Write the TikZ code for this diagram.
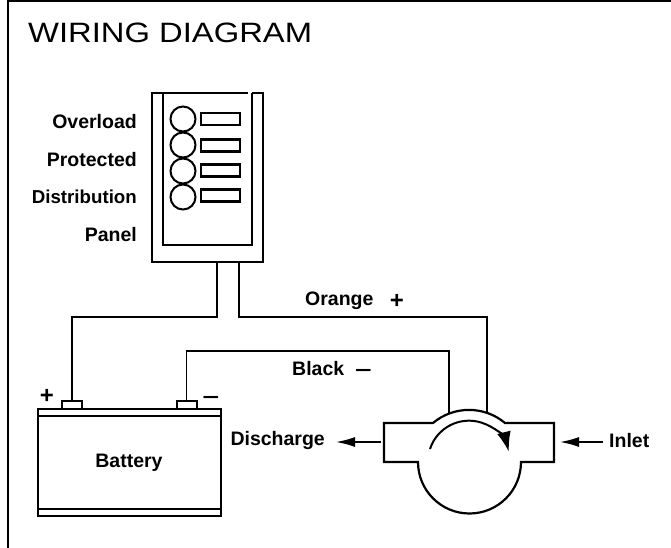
\documentclass[tikz,border=0pt]{standalone}
\usepackage{fontspec}
\setmainfont{Liberation Sans}
\usetikzlibrary{arrows.meta}
\begin{document}
\begin{tikzpicture}[
    x = 1pt,
    y = -1pt,
    wire/.style = {
        draw,
        line width = 1.7pt
    },
    thick line/.style = {
        draw,
        line width = 2.2pt
    },
    lamp/.style = {
        draw,
        circle,
        minimum size = 25pt,
        inner sep = 0pt,
        line width = 2pt
    },
    slot/.style = {
        draw,
        rectangle,
        minimum width = 39pt,
        minimum height = 12pt,
        inner sep = 0pt,
        line width = 2.2pt
    },
    terminal/.style = {
        draw,
        rectangle,
        minimum width = 20pt,
        minimum height = 8pt,
        inner sep = 0pt,
        line width = 2pt
    },
    label/.style = {
        font = \fontsize{19.5}{19.5}\selectfont\bfseries,
        inner sep = 0pt
    },
    sign/.style = {
        font = \fontsize{24}{24}\selectfont\bfseries,
        inner sep = 0pt
    },
    dash sign/.style = {
        font = \fontsize{30}{30}\selectfont,
        inner sep = 0pt
    },
    flow/.style = {
        line width = 1.6pt,
        -{Latex[length = 19pt, width = 10pt]}
    }
]

\useasboundingbox (0,0) rectangle (671,548);

% Frame
\draw[line width = 2pt] (7.5,548) -- (7.5,1.5) -- (671,1.5);

% Title
\node[inner sep = 0pt, anchor = west] (title) at (28,33) {\fontsize{28}{28}\selectfont\addfontfeature{FakeStretch=1.17}WIRING DIAGRAM};

% Panel
\draw[thick line] (248,93) -- (152,93) -- (152,262) -- (263,262) -- (263,93) -- (252,93);
\draw[thick line] (163,93) -- (163,245) -- (252,245) -- (252,93);

% Lamps and slots
\foreach \i / \y / \s in {1/119/119, 2/145/145.5, 3/171/170.5, 4/197/195.5} {
    \node[lamp] (lamp\i) at (183,\y) {};
    \node[slot] (slot\i) at (220.5,\s) {};
}

% Panel labels
\node[label, anchor = east] (overload) at (137,122) {Overload};
\node[label, anchor = east] (protected) at (137,160) {Protected};
\node[label, anchor = east, font = \fontsize{18.7}{18.7}\selectfont\bfseries] (distribution) at (137,197) {Distribution};
\node[label, anchor = east] (panel) at (137,235) {Panel};

% Battery
\node[draw, rectangle, line width = 2.2pt, minimum width = 183pt, minimum height = 107pt, inner sep = 0pt] (battery) at (129.5,462.5) {};
\draw[line width = 1.9pt] (38,416) -- (221,416);
\draw[line width = 1.9pt] (38,509) -- (221,509);
\node[label] (batterylabel) at (129,463) {Battery};
\node[terminal] (termplus) at (72,405) {};
\node[terminal] (termminus) at (186.5,405) {};
\node[sign] (plus) at (47,396) {+};
\node[dash sign] (minus) at (211,402) {\textminus};

% Pump
\draw[line width = 2.2pt] (433,423) -- (384,423) -- (384,462) -- (418,462) arc[start angle = 180, end angle = 0, radius = 51.5] -- (554,462) -- (554,423) -- (505,423) arc[start angle = -50, end angle = -130, radius = 56];
\draw[line width = 2pt, -{Latex[length = 20pt, width = 14pt]}] (430,449) arc[start angle = -162, end angle = -14, radius = 41];

% Wires
\coordinate (panelpos) at (217,262);
\coordinate (panelneg) at (239,262);
\coordinate (pumpneg) at (449,413);
\coordinate (pumppos) at (487,413);
\coordinate (bendpos) at (72,317);
\coordinate (bendorange) at (487,317);
\coordinate (bendblack) at (449,351);
\draw[wire] (panelpos) |- (bendpos) -- (termplus.north);
\draw[wire] (panelneg) |- (bendorange) -- (pumppos);
\draw[wire] (termminus.north) |- (bendblack) -- (pumpneg);

% Wire labels
\node[label, anchor = west] (orange) at (305,301) {Orange};
\node[sign] (orangeplus) at (397,301) {+};
\node[label, anchor = west] (black) at (292,369) {Black};
\node[dash sign] (blackminus) at (363.5,375) {\textminus};

% Flow
\node[label, anchor = east] (discharge) at (325,440) {Discharge};
\coordinate (dischargetail) at (381,442);
\coordinate (dischargetip) at (336,442);
\draw[flow] (dischargetail) -- (dischargetip);
\node[label, anchor = west] (inlet) at (609,441) {Inlet};
\coordinate (inlettail) at (603,442);
\coordinate (inlettip) at (560,442);
\draw[flow] (inlettail) -- (inlettip);

\end{tikzpicture}
\end{document}
